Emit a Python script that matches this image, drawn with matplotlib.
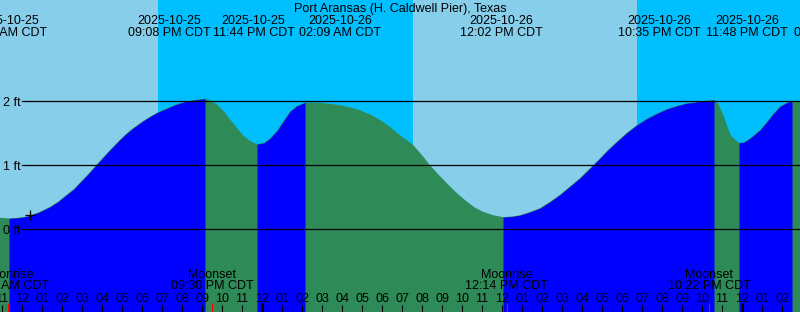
import numpy as np
import matplotlib.pyplot as plt

plt.rcParams['font.family'] = ['Liberation Sans', 'DejaVu Sans']
plt.rcParams['font.size'] = 9

title = "Port Aransas (H. Caldwell Pier), Texas"

# time axis in hours relative to midnight 2025-10-26 CDT, heights
tide_hours = [-13.1, -12.65, -12.2, -11.77, -11.2, -10.6, -10.2, -9.77, -9.4, -9.1,
              -8.7, -8.3, -7.95, -7.6, -7.1, -6.8, -6.45, -6.0, -5.6, -5.2,
              -4.75, -4.35, -3.95, -3.5, -3.1, -2.85, -2.6, -2.25, -1.9, -1.6,
              -1.25, -0.95, -0.6, -0.25, 0.1, 0.4, 0.75, 1.05, 1.4, 1.75,
              2.15, 2.5, 2.9, 3.4, 3.9, 4.4, 4.9, 5.4, 5.9, 6.4,
              6.9, 7.2, 7.55, 8.0, 8.4, 8.9, 9.4, 9.8, 10.25, 10.65,
              11.05, 11.55, 12.05, 12.5, 12.9, 13.4, 13.9, 14.4, 14.9, 15.4,
              15.9, 16.55, 16.9, 17.3, 17.75, 18.25, 18.75, 19.25, 19.75, 20.25,
              20.75, 21.25, 21.75, 22.2, 22.6, 22.8, 23.05, 23.25, 23.45, 23.85,
              24.1, 24.4, 24.9, 25.25, 25.55, 25.9, 26.25, 26.5, 26.9]
tide_ft = [0.18, 0.17, 0.18, 0.20, 0.26, 0.35, 0.43, 0.54, 0.63, 0.73,
           0.86, 1.00, 1.12, 1.24, 1.40, 1.49, 1.58, 1.68, 1.76, 1.83,
           1.89, 1.945, 1.985, 2.015, 2.03, 2.04, 2.02, 1.95, 1.84, 1.72,
           1.58, 1.47, 1.38, 1.33, 1.35, 1.42, 1.54, 1.68, 1.84, 1.93,
           1.98, 1.979, 1.975, 1.96, 1.94, 1.905, 1.86, 1.795, 1.71, 1.60,
           1.47, 1.40, 1.32, 1.16, 1.00, 0.83, 0.67, 0.55, 0.43, 0.34,
           0.275, 0.22, 0.19, 0.20, 0.22, 0.27, 0.33, 0.43, 0.54, 0.67,
           0.80, 1.00, 1.11, 1.24, 1.37, 1.51, 1.63, 1.73, 1.81, 1.88,
           1.93, 1.97, 1.99, 2.01, 2.02, 1.97, 1.80, 1.62, 1.46, 1.35,
           1.36, 1.42, 1.55, 1.68, 1.80, 1.92, 1.98, 2.01, 2.00]

event_hours = [-12.65, -2.867, -0.267, 2.15, 12.033, 22.583, 23.8, 26.5]
event_dates = ["2025-10-25", "2025-10-25", "2025-10-25", "2025-10-26",
               "2025-10-26", "2025-10-26", "2025-10-26", "2025-10-27"]
event_times = ["11:21 AM CDT", "09:08 PM CDT", "11:44 PM CDT", "02:09 AM CDT",
               "12:02 PM CDT", "10:35 PM CDT", "11:48 PM CDT", "02:30 AM CDT"]
label_shift = [-2, -35, -3, 35, -1, -54, 9, 43]  # px, labels pushed apart

moon_hours = [-12.7, -2.5, 12.233, 22.367]
moon_names = ["Moonrise", "Moonset", "Moonrise", "Moonset"]
moon_times = ["11:18 AM CDT", "09:30 PM CDT", "12:14 PM CDT", "10:22 PM CDT"]

night_spans = [(-5.2, 7.535), (18.735, 27.0)]
midnights = [0, 24]
hour_ticks = list(range(-13, 27))
hour_labels = ["11", "12", "01", "02", "03", "04", "05", "06", "07", "08", "09", "10",
               "11", "12", "01", "02", "03", "04", "05", "06", "07", "08", "09", "10",
               "11", "12", "01", "02", "03", "04", "05", "06", "07", "08", "09", "10",
               "11", "12", "01", "02"]
depth_lines = [0, 1, 2]
now_hour, now_ft = -11.6, 0.23

W, H = 800, 312
fig = plt.figure(figsize=(8, 3.12), dpi=100)
ax = fig.add_axes([0, 0, 1, 1])
ax.set_xlim(-13.1, 26.9)
ax.set_ylim(-1.292, 3.583)
ax.set_facecolor('#87CEEB')
for s in ax.spines.values():
    s.set_visible(False)
ax.set_xticks([])
ax.set_yticks([])

for a, b in night_spans:
    ax.axvspan(a, b, color='#00BFFF', lw=0, zorder=0)

t = np.array(tide_hours)
h = np.array(tide_ft)
bottom = -1.3
# falling water first, rising overlaid
ax.fill_between(t, bottom, h, color='#2E8B57', lw=0, zorder=1)
rising = np.diff(h) > 0
i = 0
while i < len(rising):
    if rising[i]:
        j = i
        while j + 1 < len(rising) and rising[j + 1]:
            j += 1
        ax.fill_between(t[i:j + 2], bottom, h[i:j + 2], color='#0000FF', lw=0, zorder=1.5)
        i = j + 1
    else:
        i += 1

for d in depth_lines:
    ax.axhline(d, xmin=21.7 / W, color='black', lw=0.9, zorder=2)
    ax.text(2.7 / W, d - 4.7 / 64, "%d ft" % d, transform=ax.get_yaxis_transform(),
            ha='left', va='baseline', zorder=3)

ax.plot([now_hour], [now_ft], marker='+', color='black', ms=7, mew=0.9, zorder=3)

xt = ax.get_xaxis_transform()
fig.text(0.5, 1 - 11.7 / H, title, ha='center', va='baseline')
for et, dt, tm, sh in zip(event_hours, event_dates, event_times, label_shift):
    ax.annotate(dt, (et, 1 - 24 / H), xycoords=xt, xytext=(sh * 0.72, 0),
                textcoords='offset points', ha='center', va='baseline', annotation_clip=False)
    ax.annotate(tm, (et, 1 - 36 / H), xycoords=xt, xytext=(sh * 0.72, 0),
                textcoords='offset points', ha='center', va='baseline', annotation_clip=False)

for mh, mn, mt in zip(moon_hours, moon_names, moon_times):
    ax.text(mh, 1 - 278.3 / H, mn, transform=xt, ha='center', va='baseline', zorder=3)
    ax.text(mh, 1 - 289.3 / H, mt, transform=xt, ha='center', va='baseline', zorder=3)

for ht, hl in zip(hour_ticks, hour_labels):
    ax.text(ht, 1 - 302 / H, hl, transform=xt, ha='center', va='baseline', zorder=3)
ax.vlines(hour_ticks, 0, 7 / H, transform=xt, color='black', lw=0.8, zorder=3)
ax.vlines(moon_hours, 0, 9 / H, transform=xt, color='red', lw=0.8, zorder=3)
ax.vlines(midnights, 0, 9 / H, transform=xt, color='black', lw=2.2, zorder=3)

fig.savefig('out.png', dpi=100)
